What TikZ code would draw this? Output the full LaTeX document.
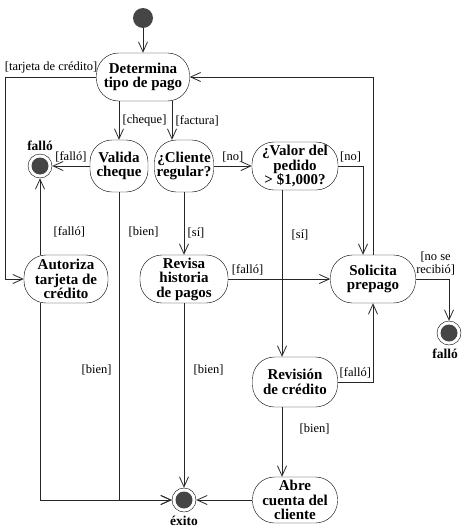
\documentclass[tikz,border=0pt]{standalone}
\usepackage{fontspec}
\setmainfont{Liberation Serif}
\usepackage{tikz}
\usetikzlibrary{arrows.meta}
\definecolor{dotgray}{gray}{0.27}
\tikzstyle{activity}=[draw, rounded corners=22pt, align=center, inner sep=1pt, minimum width=86pt, minimum height=48pt, font=\fontsize{15}{14.5}\selectfont\bfseries]
\tikzstyle{initial}=[circle, fill=dotgray, inner sep=0pt, minimum size=20pt]
\tikzstyle{final}=[circle, draw, inner sep=0pt, minimum size=24pt, path picture={\fill[dotgray] (path picture bounding box.center) circle (8.5pt);}]
\tikzstyle{endlabel}=[font=\fontsize{13.5}{14}\selectfont\bfseries]
\tikzstyle{edge}=[line width=0.8pt, draw=black!85]
\tikzstyle{labelsty}=[font=\fontsize{12.5}{13}\selectfont]
\tikzstyle{dedge}=[edge,-{Straight Barb[length=10pt,width=9pt]}]

\begin{document}
\begin{tikzpicture}[x=1pt,y=-1pt]
	\useasboundingbox (0,0) rectangle (461,530);
	
	\node[initial] (start) at (143,18) {};
	\node[activity,minimum width=93pt] (det) at (143,77) {Determina\\tipo de pago};
	\node[activity,minimum width=58pt,minimum height=52pt] (val) at (119,166) {Valida\\cheque};
	\node[activity,minimum width=59pt,minimum height=52pt] (cli) at (184,166) {¿Cliente\\regular?};
	\node[activity] (valor) at (295,166) {¿Valor del\\pedido\\> \$1,000?};
	\node[final,label={[endlabel]above:falló}] (fail1) at (40,166) {};
	\node[activity,minimum width=84pt] (aut) at (66,279) {Autoriza\\tarjeta de\\crédito};
	\node[activity,minimum width=88pt] (rev) at (184,279) {Revisa\\historia\\de pagos};
	\node[activity,minimum width=85pt] (sol) at (373,279) {Solicita\\prepago};
	\node[final,label={[endlabel,xshift=-4pt]below:falló}] (fail2) at (449,333) {};
	\node[activity,minimum width=85pt,minimum height=50pt] (rc) at (295,382) {Revisión\\de crédito};
	\node[activity,minimum width=85pt,minimum height=46pt] (abre) at (295,500) {Abre\\cuenta del\\cliente};
	\node[final,label={[endlabel]below:éxito}] (exito) at (184,500) {};
	
	\draw[dedge] (start) -- (det);
	\draw[dedge] (val.north |- det.south) -- node[right,labelsty]{[cheque]} (val.north);
	\draw[dedge] ([xshift=-12pt]cli.north |- det.south) -- node[right,labelsty]{[factura]} ([xshift=-12pt]cli.north);
	\draw[dedge] (det.west) -| node[pos=0.25,above,labelsty]{[tarjeta de crédito]} ([xshift=-18pt]aut.west) -- (aut.west);
	
	\draw[dedge] (val.west) -- node[above,labelsty]{[falló]} (fail1);
	\draw[dedge] (cli.east) -- node[above,labelsty]{[no]} (valor.west);
	\draw[dedge] (valor.east) -| node[pos=0.25,above,labelsty]{[no]} ([xshift=-10pt]sol.north);
	\draw[dedge] (sol.north) |- (det.east);
	
	\draw[dedge] ([xshift=-26pt]aut.north) -- node[pos=0.3,right,xshift=10pt,labelsty]{[falló]} (fail1.south);
	\draw[dedge] ([xshift=-26pt]aut.south) |- node[pos=0.17,right,xshift=38pt,labelsty]{[bien]} (exito.west);
	\draw[dedge] (val.south) |- node[pos=0.065,right,xshift=6pt,labelsty]{[bien]} (exito.west);
	\draw[dedge] (cli.south) -- node[pos=0.65,right,labelsty]{[sí]} (rev.north);
	\draw[dedge] (rev.south) -- node[pos=0.36,right,xshift=6pt,labelsty]{[bien]} (exito.north);
	\draw[dedge] (rev.east) -- node[pos=0.19,above,labelsty]{[falló]} (sol.west);
	
	\draw[dedge] ([xshift=-13pt]valor.south) -- node[pos=0.27,right,xshift=6pt,labelsty]{[sí]} ([xshift=-13pt]rc.north);
	\draw[dedge] (sol.east) -| node[pos=0.3,above,align=center,labelsty]{[no se\\recibió]} (fail2.north);
	\draw[dedge] (rc.east) -| node[pos=0.25,above,labelsty]{[falló]} (sol.south);
	\draw[dedge] ([xshift=-13pt]rc.south) -- node[pos=0.31,right,xshift=14pt,labelsty]{[bien]} ([xshift=-13pt]abre.north);
	\draw[dedge] (abre.west) -- (exito.east);
\end{tikzpicture}
\end{document}
